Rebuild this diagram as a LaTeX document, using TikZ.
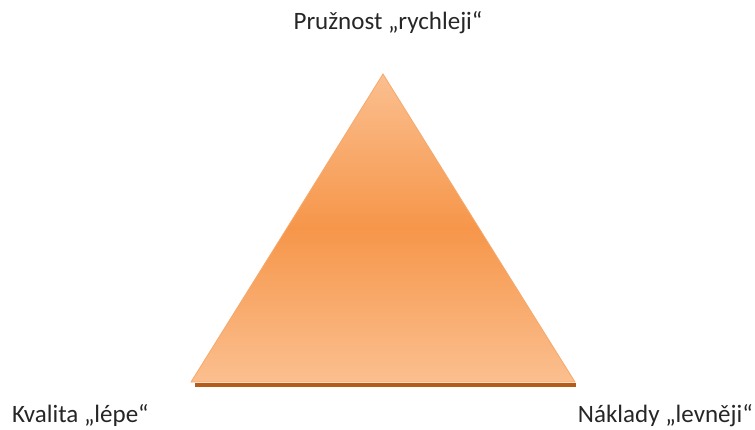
\documentclass[tikz,border=0pt]{standalone}
\usepackage{fontspec}
\setmainfont{Carlito}
\definecolor{peachLight}{HTML}{FBBF8F}
\definecolor{peachDeep}{HTML}{F6964A}
\definecolor{peachEdge}{HTML}{F5A96C}
\definecolor{rustShadow}{HTML}{B45C1C}
\tikzset{
  corner/.style={font=\fontsize{25}{30}\selectfont, text=black!85, inner sep=0pt},
}

\begin{document}
\begin{tikzpicture}[x=1pt, y=-1pt]
  \useasboundingbox (0,0) rectangle (755,430);
  % three corners of the triangle
  \coordinate (top) at (383,74);
  \coordinate (left) at (191,382);
  \coordinate (right) at (575,382);
  % dark ledge under the base
  \draw[rustShadow, line width=3.2pt] (195,385) -- (576,385);
  \shade[top color=peachLight, bottom color=peachLight, middle color=peachDeep,
         draw=peachEdge, line width=0.8pt, line join=miter]
    (top) -- (right) -- (left) -- cycle;
  % labels at the corners
  \node[corner, anchor=base] (flex) at (388,30) {Pružnost „rychleji“};
  \node[corner, anchor=base west] (quality) at (12,422) {Kvalita „lépe“};
  \node[corner, anchor=base east] (cost) at (753,422) {Náklady „levněji“};
\end{tikzpicture}
\end{document}
